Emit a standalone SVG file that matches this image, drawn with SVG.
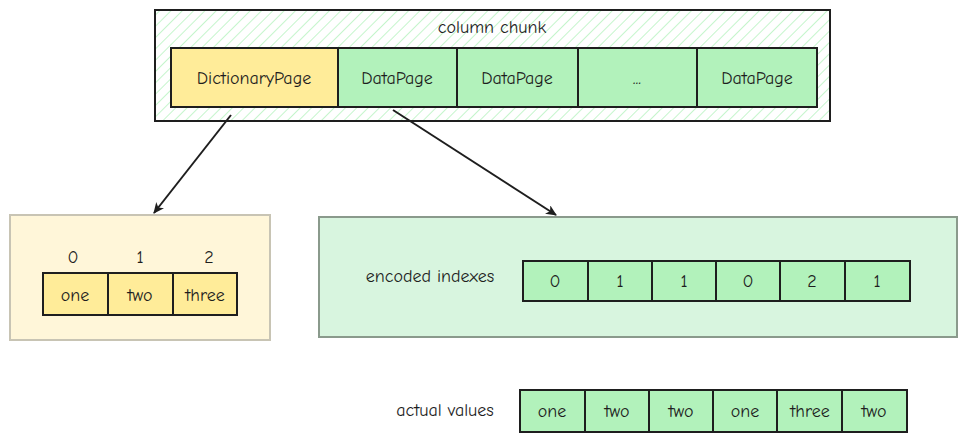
<svg xmlns="http://www.w3.org/2000/svg" width="966" height="442" viewBox="0 0 966 442">
<defs>
<pattern id="h" width="8" height="8" patternUnits="userSpaceOnUse" patternTransform="rotate(45)">
<rect width="8" height="8" fill="#fff"/><line x1="0" y1="0" x2="0" y2="8" stroke="#b2f2bb" stroke-width="1.5"/>
</pattern>
<marker id="a" markerWidth="12" markerHeight="10" refX="10" refY="5" orient="auto" markerUnits="userSpaceOnUse"><path d="M0,0 L11,5 L0,10 L3,5 Z" fill="#1e1e1e"/></marker>
<style>
text{font-family:"Comic Neue","Liberation Sans",sans-serif;font-size:18px;fill:#1e1e1e;text-anchor:middle;dominant-baseline:central}
.y{fill:#ffec99;stroke:#1e1e1e;stroke-width:2}
.g{fill:#b2f2bb;stroke:#1e1e1e;stroke-width:2}
</style>
</defs>
<g id="chunk"><rect x="155" y="10" width="675" height="111" fill="url(#h)" stroke="#1e1e1e" stroke-width="2"/><text x="492" y="27">column chunk</text></g>
<g id="dictpage"><rect class="y" x="171" y="48" width="167" height="59"/><text x="254" y="78">DictionaryPage</text></g>
<g id="dp1"><rect class="g" x="338" y="48" width="119" height="59"/><text x="397" y="78">DataPage</text></g>
<g id="dp2"><rect class="g" x="457" y="48" width="121" height="59"/><text x="517" y="78">DataPage</text></g>
<g id="dots"><rect class="g" x="578" y="48" width="119" height="59"/><text x="637" y="78">...</text></g>
<g id="dp3"><rect class="g" x="697" y="48" width="120" height="59"/><text x="757" y="78">DataPage</text></g>
<g id="dict"><rect x="10" y="215" width="260" height="125" fill="#fff6d9" stroke="#c8c4b4" stroke-width="2"/>
<text x="73" y="257">0</text><text x="140" y="257">1</text><text x="209" y="257">2</text>
<rect class="y" x="43" y="273" width="65" height="42"/><rect class="y" x="108" y="273" width="65" height="42"/><rect class="y" x="173" y="273" width="64" height="42"/>
<text x="75" y="295">one</text><text x="140" y="295">two</text><text x="205" y="295">three</text></g>
<g id="data"><rect x="319" y="217" width="638" height="120" fill="#d8f5df" stroke="#8a9a8c" stroke-width="2"/>
<text x="430" y="276">encoded indexes</text>
<rect class="g" x="523" y="261" width="65" height="40"/><rect class="g" x="588" y="261" width="64" height="40"/><rect class="g" x="652" y="261" width="64" height="40"/><rect class="g" x="716" y="261" width="64" height="40"/><rect class="g" x="780" y="261" width="65" height="40"/><rect class="g" x="845" y="261" width="65" height="40"/>
<text x="555" y="281">0</text><text x="620" y="281">1</text><text x="684" y="281">1</text><text x="748" y="281">0</text><text x="812" y="281">2</text><text x="877" y="281">1</text></g>
<g id="actual"><text x="445" y="410">actual values</text>
<rect class="g" x="520" y="390" width="65" height="42"/><rect class="g" x="585" y="390" width="64" height="42"/><rect class="g" x="649" y="390" width="64" height="42"/><rect class="g" x="713" y="390" width="64" height="42"/><rect class="g" x="777" y="390" width="65" height="42"/><rect class="g" x="842" y="390" width="65" height="42"/>
<text x="552" y="411">one</text><text x="617" y="411">two</text><text x="681" y="411">two</text><text x="745" y="411">one</text><text x="810" y="411">three</text><text x="874" y="411">two</text></g>
<g id="connectors" stroke="#1e1e1e" stroke-width="2" fill="none">
<line x1="231" y1="115" x2="154" y2="213" marker-end="url(#a)"/>
<line x1="393" y1="110" x2="556" y2="215" marker-end="url(#a)"/>
</g>
</svg>
